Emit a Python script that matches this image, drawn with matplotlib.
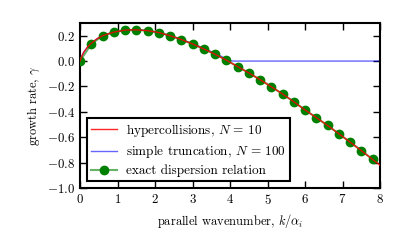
import matplotlib
matplotlib.use("Agg")
import matplotlib.pyplot as plt

plt.rcParams['font.family'] = ['cmr10', 'DejaVu Serif']
plt.rcParams['mathtext.fontset'] = 'cm'
plt.rcParams['axes.formatter.use_mathtext'] = True
plt.rcParams['font.size'] = 9.3

# exact dispersion relation (dots)
k_exact = [0.0, 0.3, 0.6, 0.9, 1.2, 1.5, 1.8, 2.1, 2.4, 2.7, 3.0, 3.3, 3.6, 3.9,
           4.2, 4.5, 4.8, 5.1, 5.4, 5.7, 6.0, 6.3, 6.6, 6.9, 7.2, 7.5, 7.8]
g_exact = [0.0, 0.133, 0.200, 0.228, 0.244, 0.246, 0.240, 0.225, 0.200, 0.170,
           0.135, 0.096, 0.054, 0.008, -0.043, -0.093, -0.146, -0.202, -0.259,
           -0.320, -0.385, -0.445, -0.507, -0.572, -0.638, -0.705, -0.774]

# hypercollisions, N = 10
k_hyper = [0.0, 0.05, 0.1, 0.2, 0.3, 0.45, 0.6, 0.9, 1.2, 1.5, 1.8, 2.1, 2.4, 2.7,
           3.0, 3.3, 3.6, 3.9, 4.2, 4.5, 4.8, 5.1, 5.4, 5.7, 6.0, 6.3, 6.6, 6.9,
           7.2, 7.5, 7.8, 8.0]
g_hyper = [0.0, 0.04, 0.07, 0.11, 0.14, 0.175, 0.200, 0.228, 0.244, 0.246, 0.240,
           0.225, 0.200, 0.170, 0.135, 0.096, 0.054, 0.008, -0.043, -0.093, -0.146,
           -0.202, -0.259, -0.320, -0.385, -0.445, -0.507, -0.572, -0.638, -0.705,
           -0.774, -0.82]

# simple truncation, N = 100
k_trunc = [0.0, 0.05, 0.1, 0.2, 0.3, 0.45, 0.6, 0.9, 1.2, 1.5, 1.8, 2.1, 2.4, 2.7,
           3.0, 3.3, 3.6, 3.8, 3.95, 4.1, 5.0, 6.0, 7.0, 8.0]
g_trunc = [0.0, 0.04, 0.07, 0.11, 0.14, 0.175, 0.200, 0.228, 0.244, 0.246, 0.240,
           0.225, 0.200, 0.170, 0.137, 0.100, 0.062, 0.032, 0.004, 0.0, 0.0, 0.0,
           0.0, 0.0]

x_ticks = [0, 1, 2, 3, 4, 5, 6, 7, 8]
y_ticks = [-1.0, -0.8, -0.6, -0.4, -0.2, 0.0, 0.2]

fig = plt.figure(figsize=(4.07, 2.52), dpi=100)
ax = fig.add_axes([80 / 407, 1 - 188 / 252, 300 / 407, 165 / 252])

ax.plot(k_hyper, g_hyper, color='red', lw=1.0, alpha=0.85, zorder=4,
        label=r'hypercollisions, $N\,=\,10$')
ax.plot(k_trunc, g_trunc, color='blue', lw=1.0, alpha=0.6, zorder=2,
        label=r'simple truncation, $N\,=\,100$')
ax.plot(k_exact, g_exact, color=(0.0, 0.5, 0.0, 0.6), lw=1.5, marker='o',
        markersize=6, markerfacecolor='green', markeredgecolor='green',
        zorder=3, label='exact dispersion relation')

ax.set_xlim(0, 8)
ax.set_ylim(-1.0, 0.3)
ax.set_xticks(x_ticks)
ax.set_yticks(y_ticks)
ax.set_xlabel(r'parallel wavenumber, $k/\alpha_i$', fontsize=9)
ax.set_ylabel(r'growth rate, $\gamma$', fontsize=9)
ax.tick_params(direction='in', top=True, right=True, length=5, width=1)
for s in ax.spines.values():
    s.set_linewidth(1.5)

leg = ax.legend(loc='lower left', fancybox=False, framealpha=1, fontsize=9.5,
                edgecolor='black', borderaxespad=0.5, handlelength=2.0,
                borderpad=0.3, labelspacing=0.35, handletextpad=0.7)
leg.get_frame().set_linewidth(1.5)

fig.savefig('out.png', dpi=100)
